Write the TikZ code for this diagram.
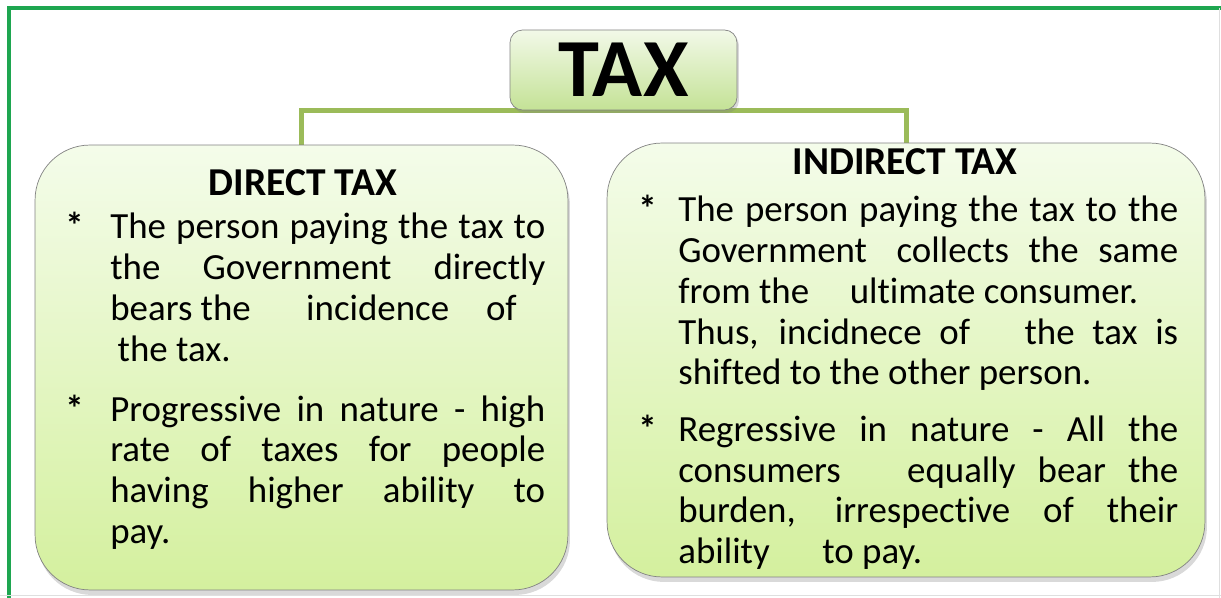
\documentclass[tikz,border=0pt]{standalone}
\usepackage{fontspec}
\setmainfont{Carlito}[Ligatures=CommonOff]
\usetikzlibrary{shadows,backgrounds}
\definecolor{framegreen}{RGB}{30,166,80}
\definecolor{linkgreen}{RGB}{155,187,89}
\definecolor{boxtop}{RGB}{244,252,234}
\definecolor{boxbottom}{RGB}{212,240,158}
\definecolor{taxtop}{RGB}{242,249,232}
\definecolor{taxbottom}{RGB}{196,226,150}
\definecolor{boxline}{RGB}{130,130,130}

\begin{document}
\begin{tikzpicture}[
    x=0.02cm, y=0.02cm,
    box/.style={rectangle, draw=boxline, rounded corners=1.1cm, top color=boxtop, bottom color=boxbottom,
        drop shadow={opacity=0.3, shadow xshift=0.04cm, shadow yshift=-0.1cm}},
    taxbox/.style={rectangle, draw=boxline, rounded corners=0.25cm, top color=taxtop, bottom color=taxbottom,
        minimum width=4.54cm, minimum height=1.6cm, font=\fontsize{47}{50}\selectfont\bfseries,
        drop shadow={opacity=0.3, shadow xshift=0.04cm, shadow yshift=-0.06cm}},
    title/.style={font=\fontsize{22.5}{25}\selectfont\bfseries, inner sep=0pt},
    body/.style={anchor=north west, inner sep=0pt, align=justify, font=\fontsize{21}{23.2}\selectfont},
    link/.style={draw=linkgreen, line width=0.1cm}
]
    \useasboundingbox (0,0) rectangle (1221,598);
    % frame
    \draw[framegreen, line width=0.07cm] (9,-20) -- (9,590) -- (1240,590);
    \draw[gray!25, line width=0.02cm] (0,2) -- (1221,2);
    \draw[gray!25, line width=0.02cm] (1219,0) -- (1219,590);

    % Nodes
    \node[taxbox] (tax) at (623.5,528) {TAX};
    \node[box, minimum width=10.66cm, minimum height=8.9cm] (dir) at (301.5,230.5) {};
    \node[box, minimum width=11.96cm, minimum height=8.68cm] (ind) at (906,238) {};

    \node[title] (dirtitle) at (303,415) {DIRECT TAX};
    \node[title] (indtitle) at (905,436) {INDIRECT TAX};

    \node[body, text width=9.6cm] (dirtext) at (65,386) {%
        \tolerance=9999
        \noindent\hangindent=0.9cm\hangafter=1\makebox[0.9cm][l]{\textbf{*}}The person paying the tax to\linebreak
        the Government directly\linebreak
        bears the\hspace{1.5em}incidence\hspace{1em}of\newline
        \hspace*{0.2em}the tax.\par
        \vspace{11pt}
        \noindent\hangindent=0.9cm\hangafter=1\makebox[0.9cm][l]{\textbf{*}}Progressive in nature - high\linebreak
        rate of taxes for people\linebreak
        having higher ability to\linebreak
        pay.\par};
    \node[body, text width=10.8cm] (indtext) at (638,403) {%
        \tolerance=9999
        \noindent\hangindent=0.8cm\hangafter=1\makebox[0.8cm][l]{\textbf{*}}The person paying the tax to the\linebreak
        Government\hspace{0.8em}collects the same\linebreak
        from the\hspace{1.1em}ultimate consumer.\newline
        Thus, incidnece of\hspace{1em} the tax is\linebreak
        shifted to the other person.\par
        \vspace{9pt}
        \noindent\hangindent=0.8cm\hangafter=1\makebox[0.8cm][l]{\textbf{*}}Regressive in nature - All the\linebreak
        consumers\hspace{1.2em} equally bear the\linebreak
        burden, irrespective of their\linebreak
        ability\hspace{1.2em} to pay.\par};

    % Connector
    \begin{pgfonlayer}{background}
        \draw[link] (dir.north) |- (tax.south) -| (ind.north);
    \end{pgfonlayer}
\end{tikzpicture}
\end{document}
